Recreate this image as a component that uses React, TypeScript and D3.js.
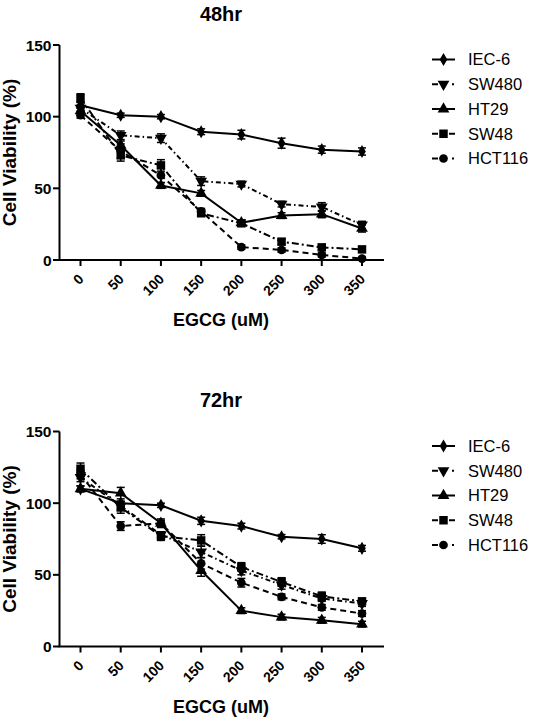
import React from "react";
import * as d3 from "d3";

const doses = [0, 50, 100, 150, 200, 250, 300, 350];
const xTickLabels = ["0", "50", "100", "150", "200", "250", "300", "350"];
const yTicks = [0, 50, 100, 150];
const seriesNames = ["IEC-6", "SW480", "HT29", "SW48", "HCT116"];

// 48hr
const iec6_48 = [108, 101, 100, 89.5, 87.5, 81.5, 77, 75.7];
const sw480_48 = [106, 87, 85, 55, 53, 39, 37, 24.5];
const ht29_48 = [104, 80, 52, 46.5, 26, 31, 32, 22];
const sw48_48 = [113, 73, 66, 32.6, 25.6, 12.8, 8.8, 7.4];
const hct116_48 = [101, 76, 59, 34, 9, 7, 3.5, 1];
const iec6_48_err = [2, 1.5, 1.5, 2, 3, 3.5, 2.5, 2.5];
const sw480_48_err = [2, 3, 3, 3, 2, 2, 3, 2.5];
const ht29_48_err = [2, 3, 2, 2, 2, 2, 2.5, 2.5];
const sw48_48_err = [3, 4, 4, 2, 2, 2, 2, 1.5];
const hct116_48_err = [2, 5, 5, 2, 1.5, 1.5, 1.5, 1];

// 72hr
const iec6_72 = [110, 100, 98.5, 87.7, 84, 76.6, 75, 68.5];
const sw480_72 = [118, 98, 78, 66, 53, 43, 33.5, 30];
const ht29_72 = [110, 107, 86, 53, 25, 20.5, 18.3, 15.6];
const sw48_72 = [124, 97, 77, 74, 55.5, 45, 35, 31.5];
const hct116_72 = [120, 84, 86, 58, 44.5, 34.6, 27.3, 23];
const iec6_72_err = [2, 1.5, 1.5, 2.5, 2, 1.5, 3, 2];
const sw480_72_err = [3, 3, 2, 4, 3, 3, 2, 2];
const ht29_72_err = [2, 4, 2, 4, 2, 2, 2, 2];
const sw48_72_err = [4, 4, 3, 4, 3, 3, 3, 2];
const hct116_72_err = [3, 3, 3, 4, 3, 2, 2, 2];

const FONT = "'Liberation Sans', Arial, Helvetica, sans-serif";

const styles = [
  { dash: "none", symbol: d3.symbolDiamond, size: 50, rot: 0, legend: "solid" },
  { dash: "5,3,1.5,3", symbol: d3.symbolTriangle, size: 60, rot: 180, legend: "dashdot" },
  { dash: "none", symbol: d3.symbolTriangle, size: 60, rot: 0, legend: "solid" },
  { dash: "7,3,2,3", symbol: d3.symbolSquare, size: 72, rot: 0, legend: "dashed" },
  { dash: "6,4", symbol: d3.symbolCircle, size: 60, rot: 0, legend: "dashdot" },
];

function Panel({ title, values, errs, top }) {
  const yTop = top + 45;
  const yBottom = top + 260;
  const x = d3.scaleLinear().domain([0, 350]).range([80.5, 362]);
  const y = d3.scaleLinear().domain([0, 150]).range([yBottom, yTop]);
  const axisX = 59.5;
  const line = d3
    .line<number>()
    .x((_, i) => x(doses[i]))
    .y((d) => y(d));
  const legendY0 = yTop + 14.5;
  const legendStep = 24.75;
  return (
    <g>
      <text x={221} y={top + 20.5} textAnchor="middle" fontFamily={FONT} fontWeight="bold" fontSize={20}>
        {title}
      </text>
      {/* y axis */}
      <line x1={axisX} x2={axisX} y1={yTop} y2={yBottom} stroke="black" strokeWidth={2} />
      {yTicks.map((t) => (
        <g key={t}>
          <line x1={53} x2={axisX} y1={y(t)} y2={y(t)} stroke="black" strokeWidth={2} />
          <text x={51.5} y={y(t) + 5.6} textAnchor="end" fontFamily={FONT} fontWeight="bold" fontSize={15.5}>
            {t}
          </text>
        </g>
      ))}
      <text
        transform={`translate(16,${(yTop + yBottom) / 2}) rotate(-90)`}
        textAnchor="middle"
        fontFamily={FONT}
        fontWeight="bold"
        fontSize={19}
      >
        Cell Viability (%)
      </text>
      {/* x axis */}
      <line x1={axisX - 1} x2={384} y1={yBottom} y2={yBottom} stroke="black" strokeWidth={2} />
      {doses.map((d, i) => (
        <g key={d}>
          <line x1={x(d)} x2={x(d)} y1={yBottom} y2={yBottom + 6} stroke="black" strokeWidth={2} />
          <text
            transform={`translate(${x(d) + 4},${yBottom + 20}) rotate(-45)`}
            textAnchor="end"
            fontFamily={FONT}
            fontWeight="bold"
            fontSize={14}
          >
            {xTickLabels[i]}
          </text>
        </g>
      ))}
      <text x={221} y={yBottom + 66} textAnchor="middle" fontFamily={FONT} fontWeight="bold" fontSize={18}>
        EGCG (uM)
      </text>
      {/* series */}
      {values.map((vals, si) => {
        const st = styles[si];
        const sym = d3.symbol().type(st.symbol).size(st.size)();
        return (
          <g key={si}>
            <path d={line(vals) || ""} fill="none" stroke="black" strokeWidth={2} strokeDasharray={st.dash} />
            {vals.map((v, i) => {
              const e = errs[si][i];
              const cx = x(doses[i]);
              return (
                <g key={i}>
                  <line x1={cx} x2={cx} y1={y(v - e)} y2={y(v + e)} stroke="black" strokeWidth={1.5} />
                  <line x1={cx - 4} x2={cx + 4} y1={y(v - e)} y2={y(v - e)} stroke="black" strokeWidth={1.5} />
                  <line x1={cx - 4} x2={cx + 4} y1={y(v + e)} y2={y(v + e)} stroke="black" strokeWidth={1.5} />
                  <path d={sym} transform={`translate(${cx},${y(v)}) rotate(${st.rot})`} fill="black" />
                </g>
              );
            })}
          </g>
        );
      })}
      {/* legend */}
      {seriesNames.map((name, si) => {
        const st = styles[si];
        const ly = legendY0 + si * legendStep;
        const sym = d3.symbol().type(st.symbol).size(st.size)();
        const x0 = 432;
        const x1 = 455;
        let segs;
        if (st.legend === "solid") segs = <line x1={x0} x2={x1} y1={ly} y2={ly} stroke="black" strokeWidth={2} />;
        else if (st.legend === "dashed")
          segs = (
            <g>
              <line x1={x0} x2={x0 + 6} y1={ly} y2={ly} stroke="black" strokeWidth={2} />
              <line x1={x1 - 6} x2={x1} y1={ly} y2={ly} stroke="black" strokeWidth={2} />
            </g>
          );
        else
          segs = (
            <g>
              <line x1={x0} x2={x0 + 6} y1={ly} y2={ly} stroke="black" strokeWidth={2} />
              <line x1={x1 - 3} x2={x1 - 1} y1={ly} y2={ly} stroke="black" strokeWidth={2} />
            </g>
          );
        return (
          <g key={name}>
            {segs}
            <path d={sym} transform={`translate(${(x0 + x1) / 2},${ly}) rotate(${st.rot})`} fill="black" />
            <text x={468} y={ly + 5.8} fontFamily={FONT} fontSize={16.5}>
              {name}
            </text>
          </g>
        );
      })}
    </g>
  );
}

export default function App() {
  return (
    <svg
      width={536}
      height={720}
      style={{ position: "absolute", left: 0, top: 0, background: "white" }}
    >
      <rect width={536} height={720} fill="white" />
      <Panel
        title="48hr"
        values={[iec6_48, sw480_48, ht29_48, sw48_48, hct116_48]}
        errs={[iec6_48_err, sw480_48_err, ht29_48_err, sw48_48_err, hct116_48_err]}
        top={0}
      />
      <Panel
        title="72hr"
        values={[iec6_72, sw480_72, ht29_72, sw48_72, hct116_72]}
        errs={[iec6_72_err, sw480_72_err, ht29_72_err, sw48_72_err, hct116_72_err]}
        top={386.5}
      />
    </svg>
  );
}
